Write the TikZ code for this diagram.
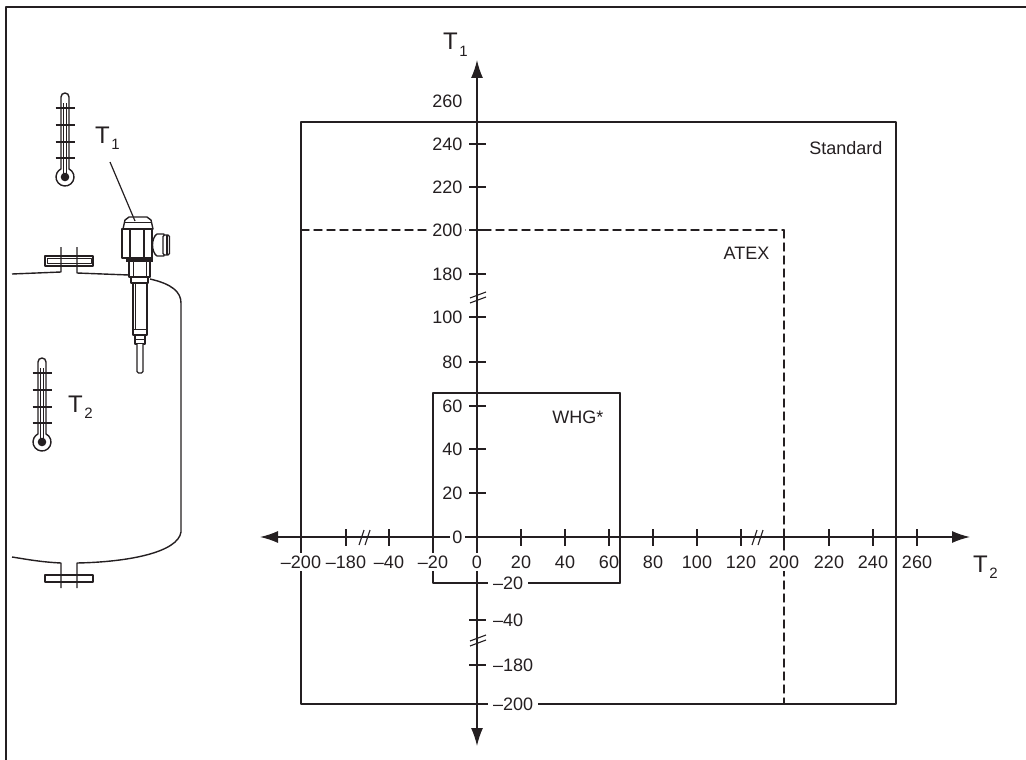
\documentclass[tikz,border=0pt]{standalone}
\usepackage{fontspec}
\setmainfont{Liberation Sans}
\usepackage{tkz-euclide}
\usetikzlibrary{arrows.meta,calc}
\definecolor{LineClr}{rgb}{0.14,0.12,0.13}

\newcommand{\TLabel}[1]{{\fontsize{24}{24}\selectfont T}\kern1.5pt\raisebox{-6pt}{\fontsize{15}{15}\selectfont #1}}

\begin{document}
\begin{tikzpicture}[x=1pt,y=-1pt,line join=round,
  axisln/.style={line width=1.4pt,color=LineClr},
  boxln/.style={line width=1.4pt,color=LineClr},
  arr/.style={-{Latex[length=18pt,width=12pt]}},
  ticklbl/.style={fill=white,inner sep=2.5pt,text=LineClr,font=\fontsize{18}{18}\selectfont},
  partln/.style={line width=1.4pt,color=LineClr,fill=white}]
\useasboundingbox (0,0) rectangle (1026,760);
\tkzSetUpLine[line width=1.4pt,color=LineClr]

% frame
\draw[line width=2.2pt,color=LineClr] (6,760) -- (6,7) -- (1026,7);

\tkzDefPoints{301/122/S1,896/122/S2,896/704/S3,301/704/S4}
\tkzDefPoints{301/230/A1,784/230/A2,784/704/A3}
\tkzDefPoints{433/393/W1,620/393/W2,620/583/W3,433/583/W4}
\tkzDefPoints{477/537/O,477/60/Yu,477/746/Yd,260/537/Xl,970/537/Xr}

% ranges
\tkzDrawPolygon[boxln](S1,S2,S3,S4)
\tkzDrawSegments[boxln,dash pattern=on 8pt off 5pt](A1,A2 A2,A3)
\tkzDrawPolygon[boxln](W1,W2,W3,W4)

% axes
\tkzDrawSegments[axisln,arr](O,Yu O,Yd O,Xl O,Xr)
\foreach \tx in {301,346,389,433,521,565,609,653,697,741,784,829,873,917}
  \draw[axisln] (\tx,529) -- (\tx,546);
\foreach \ty in {144,187,230,274,317,362,406,449,493,583,620,665}
  \draw[axisln] (469,\ty) -- (486,\ty);

% breaks
\foreach \bx in {365,758}{
  \draw[axisln,line width=1.1pt] (\bx-6,545) -- (\bx-1,530) (\bx,545) -- (\bx+5,530);
}
\foreach \by in {297,640}{
  \draw[axisln,line width=1.1pt] (470,\by+1) -- (486,\by-5) (470,\by+6) -- (486,\by);
}

% tick labels
\foreach \tx/\tl [count=\i] in {301/--200,346/--180,389/--40,433/--20,477/0,521/20,565/40,609/60,653/80,697/100,741/120,784/200,829/220,873/240,917/260}
  \node[ticklbl] (xlbl\i) at (\tx,562) {\tl};
\foreach \ty/\tl [count=\i] in {101/260,144/240,187/220,230/200,274/180,317/100,362/80,406/60,449/40,493/20,537/0}
  \node[ticklbl,anchor=east] (ylbl\i) at (465,\ty) {\tl};
\foreach \ty/\tl [count=\i] in {583/--20,620/--40,665/--180,704/--200}
  \node[ticklbl,anchor=west,inner xsep=5pt] (ynlbl\i) at (488,\ty) {\tl};
\tkzDrawSegment[boxln](W2,W3)

\node[ticklbl,anchor=east] (std) at (885,148) {Standard};
\node[ticklbl,anchor=east] (atex) at (772,253) {ATEX};
\node[ticklbl,anchor=east] (whg) at (606,417) {WHG*};

\node[anchor=base west,inner sep=0pt,text=LineClr] (tA) at (443,50) {\TLabel{1}};
\node[anchor=base west,inner sep=0pt,text=LineClr] (tB) at (973,572) {\TLabel{2}};

% tank
\draw[partln] (45,256) rectangle (93,266);
\draw[partln,line width=0.8pt] (47,258.5) rectangle (91,263.5);
\draw[partln] (45,575) rectangle (93,582);
\draw[partln,fill=none] (12,274) -- (61,272) -- (61,247);
\draw[partln,fill=none] (77,247) -- (77,273) -- (129,275);
\draw[partln,fill=none] (150,279) .. controls (172,284) and (181,292) .. (181,303)
  -- (181,532) .. controls (178,552) and (130,562) .. (77,563) -- (77,588);
\draw[partln,fill=none] (61,588) -- (61,563) .. controls (40,562) and (25,559) .. (12,557);

% sensor
\draw[partln] (123,229) -- (125,220) -- (129,217) -- (147,217) -- (151,220) -- (153,229) -- cycle;
\draw[partln] (124,222.5) -- (152,222.5);
\draw[partln] (164,234) -- (157,234) .. controls (151,238) and (151,252) .. (157,256) -- (164,256) -- cycle;
\draw[partln,rounded corners=1.5pt] (163,235) rectangle (169.5,255);
\draw[partln] (167,235) -- (167,255);
\draw[partln] (122,229) rectangle (152,258);
\draw[partln] (130,229) -- (130,258) (144,229) -- (144,258);
\fill[LineClr] (126,258) rectangle (153,261.5);
\draw[partln] (129,261.5) rectangle (150,277);
\draw[partln,line width=1pt] (133,261.5) -- (133,277) (146,261.5) -- (146,277);
\draw[partln] (131,277) rectangle (148,283);
\draw[partln] (133,283) rectangle (147,335);
\draw[partln,line width=1pt] (135.5,283) -- (135.5,329) (133,329) -- (147,329);
\draw[partln] (135,335) rectangle (145,344);
\draw[partln,line width=1pt] (135,339.5) -- (145,339.5);
\draw[partln,rounded corners=1.5pt] (137,344) -- (137,373) -- (143,373) -- (143,344);

% thermometers
\foreach \tx/\ty in {65/177,42/442}{
  \draw[partln] (\tx-4,\ty-8.06) -- (\tx-4,\ty-80) arc(180:360:4) -- (\tx+4,\ty-8.06) arc(-63.6:243.6:9) -- cycle;
  \fill[LineClr] (\tx,\ty) circle (4.3);
  \draw[partln,line width=0.9pt] (\tx-1.7,\ty-74) -- (\tx-1.7,\ty-3) (\tx+1.7,\ty-74) -- (\tx+1.7,\ty-3);
  \foreach \cy in {69,52,35,19}
    \draw[partln,line width=1.2pt] (\tx-9.5,\ty-\cy) -- (\tx+9.5,\ty-\cy);
}

\node[anchor=base west,inner sep=0pt,text=LineClr] (tC) at (95,143) {\TLabel{1}};
\node[anchor=base west,inner sep=0pt,text=LineClr] (tD) at (68,412) {\TLabel{2}};
\coordinate (ldA) at (110,162);
\coordinate (ldB) at (135,221);
\draw[partln,line width=1.2pt] (ldA) -- (ldB);

\end{tikzpicture}
\end{document}
